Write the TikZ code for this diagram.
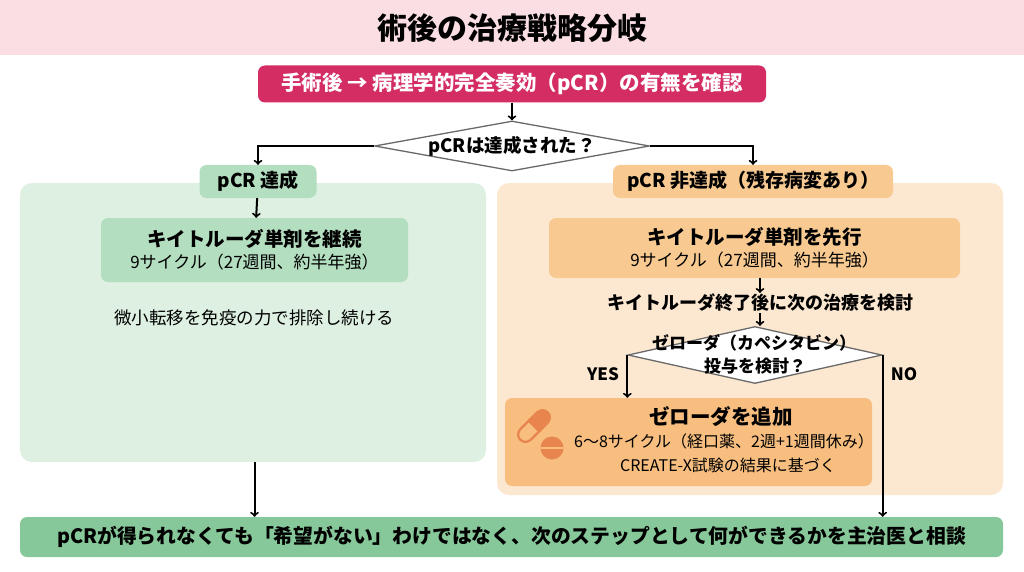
\documentclass[tikz,border=0pt]{standalone}
\usepackage{fontspec}
\setmainfont{Noto Sans CJK JP}
\usetikzlibrary{shapes.geometric}

\definecolor{titlepink}{RGB}{250,222,227}
\definecolor{crimson}{RGB}{212,45,100}
\definecolor{greenpale}{RGB}{221,240,225}
\definecolor{greenmid}{RGB}{180,222,192}
\definecolor{greenbar}{RGB}{134,200,153}
\definecolor{orangepale}{RGB}{252,232,208}
\definecolor{orangemid}{RGB}{248,202,146}
\definecolor{orangedeep}{RGB}{247,190,128}
\definecolor{pillcol}{RGB}{232,132,78}
\definecolor{rimgray}{RGB}{105,105,105}

\begin{document}
\begin{tikzpicture}[x=1pt, y=-1pt,
    box/.style={rounded corners=7pt, inner sep=0pt, align=center},
    panel/.style={rounded corners=12pt},
    flow/.style={->, line width=2pt},
    ask/.style={diamond, draw=rimgray, line width=1.3pt, fill=white, inner sep=0pt}]
    \useasboundingbox (0,0) rectangle (1024,572);
    \fill[white] (0,0) rectangle (1024,572);
    % title band
    \fill[titlepink] (0,0) rectangle (1024,55);
    \node (t) at (512,28) {\fontsize{30}{32}\selectfont\bfseries 術後の治療戦略分岐};
    % panels
    \fill[greenpale, panel] (20,183) rectangle (486,462);
    \fill[orangepale, panel] (497,183) rectangle (1003,495);
    % top of the flow
    \node[box, fill=crimson, text=white, minimum width=508pt, minimum height=37pt, font=\fontsize{20.5}{22}\selectfont\bfseries] (a) at (512,84) {手術後 → 病理学的完全奏効（pCR）の有無を確認};
    \node[ask, minimum width=275pt, minimum height=50pt] (q) at (512,146) {};
    \node (qt) at (q) {\fontsize{18.5}{22}\selectfont\bfseries pCRは達成された？};
    \draw [flow] (a) to (q);
    % left branch
    \node[box, fill=greenmid, minimum width=117pt, minimum height=33pt, font=\fontsize{19}{22}\selectfont\bfseries] (b) at (258,181.5) {pCR 達成};
    \node[box, fill=greenmid, minimum width=307pt, minimum height=64pt] (c) at (254.5,250) {{\fontsize{19.5}{24}\selectfont\bfseries キイトルーダ単剤を継続}\\[4pt]{\fontsize{17}{20}\selectfont 9サイクル（27週間、約半年強）}};
    \node (d) at (254,318) {\fontsize{17.5}{20}\selectfont 微小転移を免疫の力で排除し続ける};
    \draw [flow] (q.west) -| (b.north);
    \draw [flow] (b) to (c);
    % right branch
    \node[box, fill=orangemid, minimum width=280pt, minimum height=33pt, font=\fontsize{19}{22}\selectfont\bfseries] (e) at (753,181.5) {pCR 非達成（残存病変あり）};
    \node[box, fill=orangemid, minimum width=411pt, minimum height=60pt] (f) at (754.5,248) {{\fontsize{19.5}{24}\selectfont\bfseries キイトルーダ単剤を先行}\\[4pt]{\fontsize{17}{20}\selectfont 9サイクル（27週間、約半年強）}};
    \node[inner sep=1pt] (g) at (760,303) {\fontsize{18}{20}\selectfont\bfseries キイトルーダ終了後に次の治療を検討};
    \node[ask, minimum width=254pt, minimum height=57pt] (h) at (755,355) {};
    \node (h1) at (754,343) {\fontsize{17}{20}\selectfont\bfseries ゼローダ（カペシタビン）};
    \node (h2) at (755,366) {\fontsize{17}{20}\selectfont\bfseries 投与を検討？};
    \draw [flow] (q.east) -| (e.north);
    \draw [flow] (f.south -| g) to (g);
    \draw [flow] (g) to (h.north -| g);
    \node[box, fill=orangedeep, minimum width=367pt, minimum height=88pt] (i) at (688.5,442) {};
    \node (j1) at (721,417) {\fontsize{20.5}{24}\selectfont\bfseries ゼローダを追加};
    \node (j2) at (724,441) {\fontsize{16}{20}\selectfont 6～8サイクル（経口薬、2週+1週間休み）};
    \node (j3) at (728,465) {\fontsize{16}{20}\selectfont CREATE-X試験の結果に基づく};
    % pill icon
    \begin{scope}[shift={(534,426)}, rotate=45]
      \fill[pillcol] (0,-8.5) -- (12,-8.5) arc (-90:90:8.5) -- (0,8.5) -- cycle;
      \draw[pillcol, line width=2.2pt] (0,-7.4) -- (-12,-7.4) arc (270:90:7.4) -- (0,7.4) -- cycle;
    \end{scope}
    \fill[pillcol] (552,448) circle (11.5);
    \fill[orangedeep] (541,446.6) rectangle (563,449.4);
    \draw [flow] (h.west) -- (h.west |- i.north);
    \node (yes) at (603,374) {\fontsize{17}{20}\selectfont\bfseries YES};
    \node (no) at (904,374) {\fontsize{17}{20}\selectfont\bfseries NO};
    % bottom bar
    \node[box, fill=greenbar, minimum width=983pt, minimum height=40pt, font=\fontsize{19.8}{22}\selectfont\bfseries] (z) at (511.5,537) {pCRが得られなくても「希望がない」わけではなく、次のステップとして何ができるかを主治医と相談};
    \draw [flow] (c.south |- 0,462) -- (c.south |- z.north);
    \draw [flow] (h.east) -- (h.east |- z.north);
  \end{tikzpicture}
\end{document}
